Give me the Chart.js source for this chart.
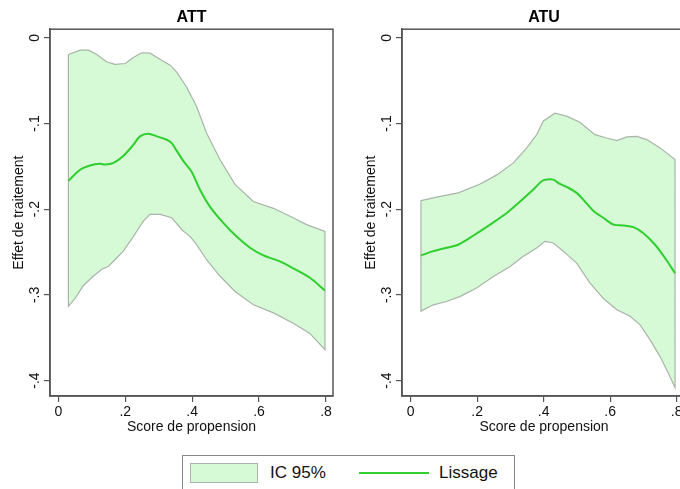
<!DOCTYPE html>
<html>
<head>
<meta charset="utf-8">
<script src="https://cdn.jsdelivr.net/npm/chart.js@4.4.1/dist/chart.umd.min.js"></script>
<style>
  body { margin: 0; width: 680px; height: 489px; overflow: hidden; background: #fff; position: relative;
         font-family: "Liberation Sans", Arial, Helvetica, sans-serif; }
  .panel { position: absolute; top: 0; height: 440px; }
  #leftPanel { left: 0; width: 340px; }
  #rightPanel { left: 352px; width: 334px; }
  .legend { position: absolute; left: 182px; top: 455px; width: 331px; height: 45px; border: 1px solid #888; }
  .legend .patch { position: absolute; left: 7px; top: 7px; width: 66px; height: 18px; background: #d6f9d6; border: 1px solid #aab4aa; }
  .legend .line { position: absolute; left: 176px; top: 16px; width: 70px; height: 2px; background: #2ecf2e; }
  .legend span { position: absolute; top: 7px; font-size: 17px; color: #111; line-height: 20px; }
</style>
</head>
<body>
<div class="panel" id="leftPanel"><canvas id="attChart" width="340" height="440"></canvas></div>
<div class="panel" id="rightPanel"><canvas id="atuChart" width="334" height="440"></canvas></div>
<div class="legend">
  <div class="patch"></div><span style="left:87px">IC 95%</span>
  <div class="line"></div><span style="left:256px">Lissage</span>
</div>
<script>
const xTicks = [0, 0.2, 0.4, 0.6, 0.8];
const yTicks = [0, -0.1, -0.2, -0.3, -0.4];

// ATT
const attLineX = [0.03, 0.065, 0.095, 0.125, 0.14, 0.165, 0.194, 0.224, 0.244, 0.269, 0.294, 0.324, 0.339, 0.354, 0.374, 0.398, 0.423, 0.453, 0.493, 0.533, 0.573, 0.613, 0.662, 0.702, 0.752, 0.797];
const attLineY = [-0.167, -0.154, -0.149, -0.147, -0.148, -0.146, -0.138, -0.125, -0.115, -0.112, -0.115, -0.119, -0.123, -0.132, -0.144, -0.156, -0.177, -0.197, -0.216, -0.232, -0.245, -0.254, -0.261, -0.269, -0.280, -0.295];
const attUpperX = [0.03, 0.065, 0.09, 0.115, 0.144, 0.169, 0.2, 0.224, 0.249, 0.274, 0.304, 0.334, 0.354, 0.384, 0.413, 0.443, 0.483, 0.528, 0.583, 0.643, 0.702, 0.742, 0.797];
const attUpperY = [-0.0195, -0.0144, -0.0144, -0.0195, -0.028, -0.031, -0.030, -0.023, -0.0175, -0.018, -0.025, -0.032, -0.040, -0.058, -0.080, -0.111, -0.142, -0.171, -0.191, -0.199, -0.210, -0.218, -0.226];
const attLowerX = [0.03, 0.05, 0.075, 0.105, 0.13, 0.149, 0.169, 0.194, 0.224, 0.254, 0.274, 0.304, 0.339, 0.369, 0.394, 0.413, 0.443, 0.483, 0.528, 0.583, 0.643, 0.702, 0.752, 0.797];
const attLowerY = [-0.3135, -0.304, -0.289, -0.278, -0.270, -0.267, -0.259, -0.249, -0.232, -0.214, -0.206, -0.206, -0.210, -0.224, -0.232, -0.241, -0.259, -0.278, -0.296, -0.3116, -0.321, -0.333, -0.345, -0.364];

// ATU
const atuLineX = [0.031, 0.068, 0.108, 0.143, 0.188, 0.239, 0.289, 0.329, 0.369, 0.394, 0.409, 0.429, 0.449, 0.474, 0.499, 0.524, 0.549, 0.579, 0.610, 0.640, 0.670, 0.700, 0.735, 0.765, 0.795];
const atuLineY = [-0.254, -0.249, -0.245, -0.2415, -0.231, -0.218, -0.2045, -0.191, -0.177, -0.1675, -0.1655, -0.1655, -0.1706, -0.175, -0.181, -0.191, -0.2018, -0.210, -0.218, -0.219, -0.221, -0.228, -0.2415, -0.257, -0.2746];
const atuUpperX = [0.031, 0.078, 0.143, 0.209, 0.259, 0.309, 0.349, 0.379, 0.399, 0.434, 0.469, 0.509, 0.554, 0.589, 0.620, 0.650, 0.680, 0.710, 0.750, 0.795];
const atuUpperY = [-0.190, -0.186, -0.181, -0.1706, -0.160, -0.146, -0.1285, -0.113, -0.097, -0.088, -0.0915, -0.0985, -0.113, -0.117, -0.120, -0.1157, -0.115, -0.1188, -0.1285, -0.142];
const atuLowerX = [0.031, 0.068, 0.108, 0.148, 0.198, 0.249, 0.299, 0.339, 0.379, 0.404, 0.429, 0.459, 0.499, 0.539, 0.579, 0.620, 0.660, 0.690, 0.720, 0.750, 0.775, 0.795];
const atuLowerY = [-0.319, -0.3116, -0.3077, -0.302, -0.292, -0.2785, -0.267, -0.255, -0.2454, -0.2376, -0.2395, -0.249, -0.263, -0.286, -0.304, -0.3174, -0.325, -0.335, -0.3525, -0.372, -0.3914, -0.408];

const FONT = '"Liberation Sans", Arial, Helvetica, sans-serif';
const FRAME = '#555';

function fmt(v) {
  if (v === 0) return '0';
  return v.toFixed(1).replace('0.', '.');
}

function pts(xs, ys) {
  return xs.map((x, i) => ({ x: x, y: ys[i] }));
}

// closed outline of the confidence band: upper edge, then lower edge back
function band(upX, upY, loX, loY) {
  const up = pts(upX, upY);
  const lo = pts(loX, loY).reverse();
  return up.concat(lo, [up[0]]);
}

const framePlugin = {
  id: 'frame',
  afterDatasetsDraw(chart) {
    const a = chart.chartArea, ctx = chart.ctx;
    ctx.save();
    ctx.strokeStyle = FRAME;
    ctx.lineWidth = 1.5;
    ctx.strokeRect(a.left, a.top, a.right - a.left, a.bottom - a.top);
    ctx.restore();
  }
};

// Stata style vertical y tick labels
const yLabelPlugin = {
  id: 'yLabels',
  afterDraw(chart) {
    const ctx = chart.ctx, ys = chart.scales.y;
    ctx.save();
    ctx.font = '14px ' + FONT;
    ctx.fillStyle = '#111';
    ctx.textAlign = 'center';
    ctx.textBaseline = 'middle';
    yTicks.forEach(v => {
      ctx.save();
      ctx.translate(ys.right - 15, ys.getPixelForValue(v));
      ctx.rotate(-Math.PI / 2);
      ctx.fillText(fmt(v), 0, 0);
      ctx.restore();
    });
    ctx.restore();
  }
};

function makePanel(id, title, lineX, lineY, upX, upY, loX, loY, xMin, xMax, padRight) {
  return new Chart(document.getElementById(id).getContext('2d'), {
    type: 'scatter',
    data: {
      datasets: [{
        label: 'Lissage',
        data: pts(lineX, lineY),
        showLine: true,
        borderColor: '#2ecf2e',
        borderWidth: 2,
        pointRadius: 0,
        tension: 0.3,
        fill: false
      }, {
        label: 'IC 95%',
        data: band(upX, upY, loX, loY),
        showLine: true,
        borderColor: '#aab4aa',
        borderWidth: 1.2,
        backgroundColor: '#d6f9d6',
        pointRadius: 0,
        tension: 0,
        fill: 'shape'
      }]
    },
    options: {
      responsive: false,
      animation: false,
      layout: { padding: { left: 0, right: padRight, top: 0, bottom: 0 } },
      plugins: {
        legend: { display: false },
        tooltip: { enabled: false },
        title: {
          display: true,
          text: title,
          fullSize: false,
          color: '#000',
          font: { family: FONT, size: 16, weight: 'bold' },
          padding: { top: 8, bottom: 2 }
        }
      },
      scales: {
        x: {
          type: 'linear',
          min: xMin,
          max: xMax,
          afterBuildTicks: s => { s.ticks = xTicks.map(v => ({ value: v })); },
          afterFit: s => { s.height = 44; },
          grid: { drawOnChartArea: false, drawTicks: true, tickLength: 6, color: FRAME, lineWidth: 1.2 },
          border: { display: true, color: FRAME, width: 1.5 },
          ticks: { callback: v => fmt(v), color: '#111', padding: 2, font: { family: FONT, size: 14 } },
          title: { display: true, text: 'Score de propension', color: '#111', font: { family: FONT, size: 14 }, padding: { top: 0, bottom: 4 } }
        },
        y: {
          type: 'linear',
          min: -0.418,
          max: 0.01,
          afterBuildTicks: s => { s.ticks = yTicks.map(v => ({ value: v })); },
          afterFit: s => { s.width = 50; },
          grid: { drawOnChartArea: false, drawTicks: true, tickLength: 6, color: FRAME, lineWidth: 1.2 },
          border: { display: true, color: FRAME, width: 1.5 },
          ticks: { display: false },
          title: { display: true, text: 'Effet de traitement', color: '#111', font: { family: FONT, size: 14 }, padding: { top: 11, bottom: 0 } }
        }
      }
    },
    plugins: [framePlugin, yLabelPlugin]
  });
}

makePanel('attChart', 'ATT', attLineX, attLineY, attUpperX, attUpperY, attLowerX, attLowerY, -0.025, 0.821, 7);
makePanel('atuChart', 'ATU', atuLineX, atuLineY, atuUpperX, atuUpperY, atuLowerX, atuLowerY, -0.026, 0.828, 0);
</script>
</body>
</html>
